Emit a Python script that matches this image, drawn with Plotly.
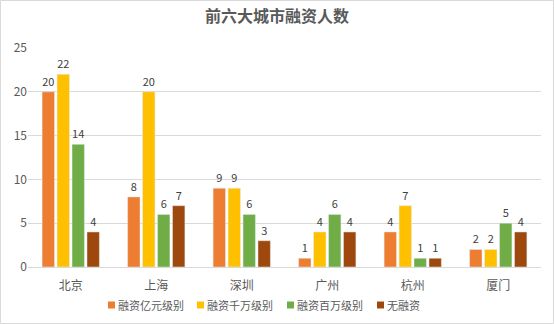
import plotly.graph_objects as go

cities = ["北京", "上海", "深圳", "广州", "杭州", "厦门"]
series_names = ["融资亿元级别", "融资千万级别", "融资百万级别", "无融资"]
yi = [20, 8, 9, 1, 4, 2]
qianwan = [22, 20, 9, 4, 7, 2]
baiwan = [14, 6, 6, 6, 1, 5]
none_ = [4, 7, 3, 4, 1, 4]
colors = ["#ED7D31", "#FFC000", "#70AD47", "#9E480E"]
y_ticks = [0, 5, 10, 15, 20, 25]

W, H = 554, 324
ml, mr, mt, mb = 28, 13, 48, 57
pw = W - ml - mr
ph = H - mt - mb


def px_x(px):
    return (px - ml) / pw


def px_y(py):
    return (H - mb - py) / ph


font = "Noto Sans CJK SC, Microsoft YaHei, sans-serif"
fig = go.Figure()
for name, vals, c in zip(series_names, [yi, qianwan, baiwan, none_], colors):
    fig.add_trace(go.Bar(
        x=cities, y=vals, name=name, marker_color=c,
        text=vals, textposition="outside", cliponaxis=False,
        textfont=dict(size=11, color="#404040", family=font),
        showlegend=False,
    ))

# custom compact legend (Excel-like)
legend_x = [108, 197, 287, 377]
legend_y = 305
shapes = [dict(type="rect", xref="paper", yref="paper",
               x0=-(ml - 0.5) / pw, x1=1 + (mr - 0.5) / pw,
               y0=-(mb - 0.5) / ph, y1=1 + (mt - 0.5) / ph,
               line=dict(color="#D9D9D9", width=1))]
annotations = []
for name, c, lx in zip(series_names, colors, legend_x):
    shapes.append(dict(type="rect", xref="paper", yref="paper",
                       x0=px_x(lx), x1=px_x(lx + 7),
                       y0=px_y(legend_y + 3.5), y1=px_y(legend_y - 3.5),
                       fillcolor=c, line=dict(width=0)))
    annotations.append(dict(text=name, xref="paper", yref="paper",
                            x=px_x(lx + 8), y=px_y(legend_y), xanchor="left", yanchor="middle",
                            showarrow=False, font=dict(size=11, color="#595959", family=font)))

fig.update_layout(
    width=W, height=H,
    margin=dict(l=ml, r=mr, t=mt, b=mb),
    paper_bgcolor="white", plot_bgcolor="white",
    barmode="group", bargap=0.3, bargroupgap=0.17,
    title=dict(text="<b>前六大城市融资人数</b>", x=0.5, xanchor="center", y=1 - 16 / H, yanchor="middle",
               font=dict(size=16, color="#595959", family=font)),
    font=dict(family=font, color="#595959", size=11),
    showlegend=False,
    xaxis=dict(showgrid=False, showline=True, linecolor="#D9D9D9", ticks="",
               ticklabelstandoff=8,
               tickfont=dict(size=12, color="#595959")),
    yaxis=dict(range=[0, 25], tickvals=y_ticks, showgrid=True, gridcolor="#D9D9D9",
               zeroline=False, showline=False, ticks="", tickfont=dict(size=12, color="#595959")),
    shapes=shapes,
    annotations=annotations,
)
fig.write_html("out.html")
